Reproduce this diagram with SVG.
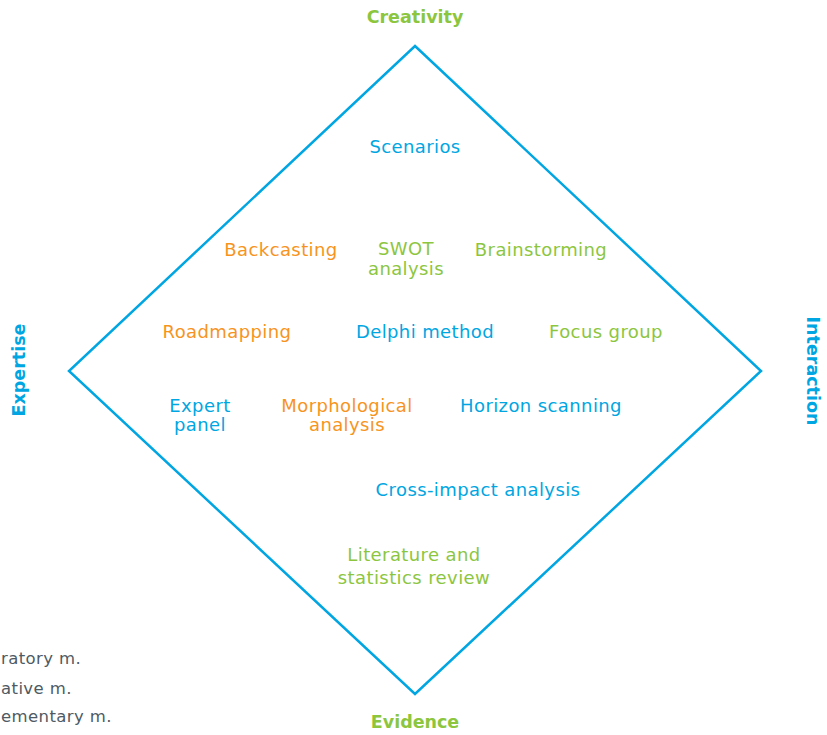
<svg xmlns="http://www.w3.org/2000/svg" width="827" height="735" viewBox="0 0 827 735">
<style>
.m{font-family:"DejaVu Sans","Liberation Sans",sans-serif;font-size:18px;letter-spacing:0.4px;text-anchor:middle}
.h{font-family:"DejaVu Sans","Liberation Sans",sans-serif;font-size:17.5px;font-weight:bold;text-anchor:middle}
.leg{font-family:"DejaVu Sans","Liberation Sans",sans-serif;font-size:16.5px;letter-spacing:0.4px;fill:#4e5a64}
.b{fill:#00a6e2}.g{fill:#8cc63f}.o{fill:#f7941d}
.frame{fill:none;stroke:#00a6e2;stroke-width:2.5;stroke-linejoin:miter}
</style>
<rect width="827" height="735" fill="#ffffff"/>
<g id="frame"><polygon class="frame" points="415,46 761,371 415,694 69,371"/></g>
<g id="axes">
<g id="creativity"><text class="h g" x="415" y="23">Creativity</text></g>
<g id="evidence"><text class="h g" x="415" y="728">Evidence</text></g>
<g id="expertise"><text class="h b" transform="translate(25,370) rotate(-90)">Expertise</text></g>
<g id="interaction"><text class="h b" transform="translate(807,371) rotate(90)">Interaction</text></g>
</g>
<g id="methods">
<g id="scenarios"><text class="m b" x="415" y="153">Scenarios</text></g>
<g id="backcasting"><text class="m o" x="281" y="256">Backcasting</text></g>
<g id="swot"><text class="m g" x="406" y="255">SWOT</text><text class="m g" x="406" y="275">analysis</text></g>
<g id="brainstorming"><text class="m g" x="541" y="256">Brainstorming</text></g>
<g id="roadmapping"><text class="m o" x="227" y="338">Roadmapping</text></g>
<g id="delphi"><text class="m b" x="425" y="338">Delphi method</text></g>
<g id="focus"><text class="m g" x="606" y="338">Focus group</text></g>
<g id="expert"><text class="m b" x="200" y="412">Expert</text><text class="m b" x="200" y="431">panel</text></g>
<g id="morphological"><text class="m o" x="347" y="412">Morphological</text><text class="m o" x="347" y="431">analysis</text></g>
<g id="horizon"><text class="m b" x="541" y="412">Horizon scanning</text></g>
<g id="crossimpact"><text class="m b" x="478" y="496">Cross-impact analysis</text></g>
<g id="literature"><text class="m g" x="414" y="561">Literature and</text><text class="m g" x="414" y="584">statistics review</text></g>
</g>
<g id="legend">
<text class="leg" x="1" y="664">ratory m.</text>
<text class="leg" x="1" y="694">ative m.</text>
<text class="leg" x="1" y="722">ementary m.</text>
</g>
</svg>
